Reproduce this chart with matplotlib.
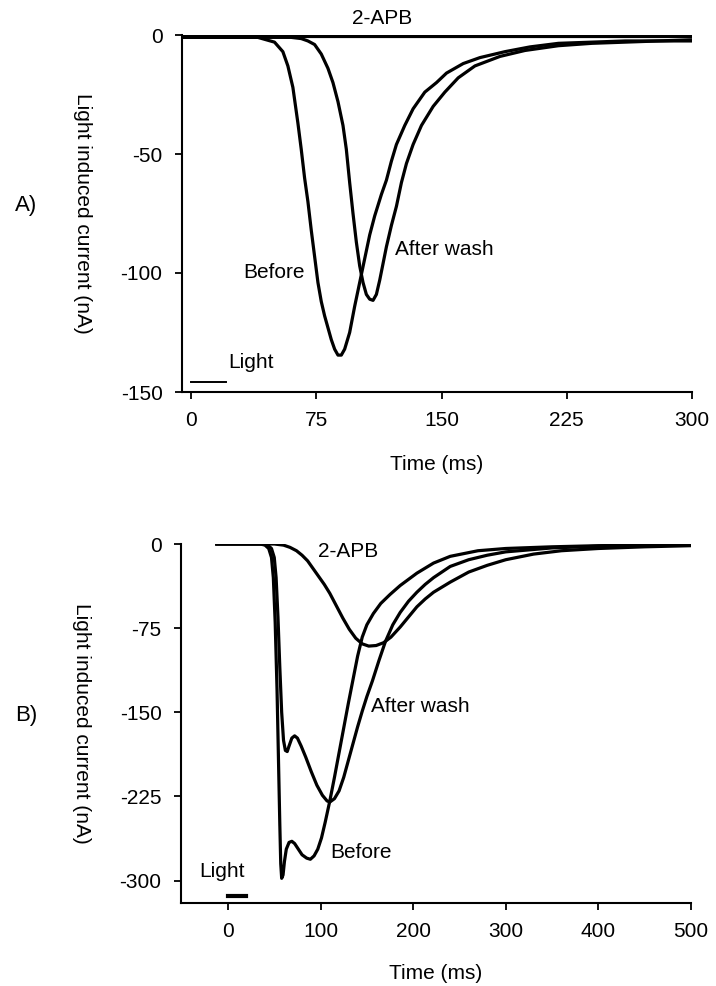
import matplotlib
matplotlib.use("Agg")
import matplotlib.pyplot as plt

plt.rcParams['font.family'] = ['Liberation Sans', 'DejaVu Sans']
plt.rcParams['axes.unicode_minus'] = False

# ---------------- Panel A data (time ms, current nA) ----------------
a_before_t = [-5, 40, 45, 50, 55, 58, 61, 64, 66, 68, 70, 72, 74, 76, 78, 80, 82, 84, 86, 88, 90,
              92, 95, 98, 101, 104, 107, 110, 114, 117, 120, 123, 128, 133, 140, 147, 153, 163,
              173, 188, 203, 220, 240, 260, 280, 300]
a_before_v = [-1, -1, -2, -3, -7, -13, -22, -37, -48, -60, -70, -82, -93, -104, -112, -118, -123,
              -128, -132, -134.5, -134.5, -132, -125, -114, -104, -94, -84, -76, -67, -61, -53,
              -46, -38, -31, -24, -20, -16, -12, -9.5, -7, -5, -3.5, -3, -2.5, -2.5, -2]

a_wash_t = [-5, 60, 66, 70, 74, 78, 82, 85, 88, 91, 93, 95, 97, 99, 101, 103, 105, 107, 109, 111,
            113, 115, 117, 120, 123, 126, 129, 133, 138, 145, 152, 160, 170, 185, 200, 220, 240,
            260, 280, 300]
a_wash_v = [-1, -1, -1.5, -2.5, -4, -8, -14, -20, -28, -38, -48, -62, -75, -87, -97, -104, -109,
            -111, -111.5, -109, -103, -96, -89, -80, -72, -62, -54, -46, -38, -30, -24, -18, -13,
            -9, -6.5, -4.5, -3.5, -3, -2.5, -2.5]

a_apb_t = [-5, 50, 100, 150, 200, 250, 300]
a_apb_v = [-0.5, -0.5, -0.5, -0.5, -0.5, -0.5, -0.5]

a_light_t = [0, 21]
a_light_v = [-146, -146]

a_xticks = [0, 75, 150, 225, 300]
a_yticks = [0, -50, -100, -150]

# ---------------- Panel B data ----------------
b_before_t = [-12, 35, 40, 44, 47, 49, 51, 53, 54.5, 56, 57, 58, 59.5, 61, 63, 66, 69, 72, 76, 80,
              85, 89, 93, 97, 101, 105, 110, 115, 120, 125, 130, 135, 140, 145, 150, 157, 165,
              175, 186, 204, 222, 240, 270, 300, 350, 400, 450, 500]
b_before_v = [0, 0, -1, -4, -12, -30, -70, -130, -190, -250, -285, -298, -295, -283, -272, -266,
              -265, -267, -272, -277, -280, -281, -278, -272, -262, -248, -229, -208, -186, -164,
              -142, -121, -100, -83, -72, -62, -53, -45, -37, -26, -17, -11, -6, -4, -2.5, -1.5,
              -1, -0.5]

b_wash_t = [-12, 38, 43, 47, 50, 52, 54, 56, 58, 60, 62, 64, 66, 69, 72, 75, 79, 84, 90, 96, 102,
            107, 110, 115, 120, 125, 130, 135, 140, 145, 150, 156, 163, 170, 178, 186, 195, 204,
            213, 222, 240, 260, 280, 300, 350, 400, 450, 500]
b_wash_v = [0, 0, -1, -4, -12, -30, -65, -110, -150, -175, -184, -185, -180, -173, -171, -173,
            -180, -190, -203, -215, -224, -229, -230, -227, -220, -208, -193, -178, -163, -149,
            -136, -122, -104, -87, -72, -61, -51, -43, -36, -30, -20, -14, -10, -7, -3.5, -2, -1,
            -0.5]

b_apb_t = [-12, 50, 60, 67, 74, 80, 86, 92, 98, 104, 110, 117, 124, 131, 138, 145, 152, 160, 168,
           176, 186, 195, 204, 213, 222, 240, 260, 280, 300, 330, 360, 400, 450, 500]
b_apb_v = [0, 0, -1, -3, -6, -10, -15, -22, -29, -36, -44, -55, -66, -76, -84, -89, -91, -90.5,
           -88, -83, -74, -65, -56, -49, -43, -34, -25, -19, -14, -9, -6, -4, -2.5, -1.5]

b_light_t = [0, 20]
b_light_v = [-314, -314]

b_xticks = [0, 100, 200, 300, 400, 500]
b_yticks = [0, -75, -150, -225, -300]

# ---------------- Figure ----------------
W, H = 716, 986
fig = plt.figure(figsize=(W / 100, H / 100), dpi=100)


def rect(l, r, t, b):
    return [l / W, 1 - b / H, (r - l) / W, (b - t) / H]


FS = 15
LW = 2.3


def style(ax):
    for s in ['top', 'right']:
        ax.spines[s].set_visible(False)
    for s in ['left', 'bottom']:
        ax.spines[s].set_linewidth(1.5)
    ax.tick_params(direction='out', length=5, width=1.3, labelsize=FS)
    ax.tick_params(axis='x', pad=9)
    ax.tick_params(axis='y', pad=9)


# Panel A
axA = fig.add_axes(rect(182, 692, 35, 392))
style(axA)
axA.plot(a_apb_t, a_apb_v, color='black', lw=LW)
axA.plot(a_before_t, a_before_v, color='black', lw=LW)
axA.plot(a_wash_t, a_wash_v, color='black', lw=LW)
axA.plot(a_light_t, a_light_v, color='black', lw=1.4)
axA.set_xlim(-5.4, 300)
axA.set_ylim(-150, 0)
axA.set_xticks(a_xticks)
axA.set_yticks(a_yticks)
axA.set_xlabel('Time (ms)', fontsize=FS, labelpad=18)
axA.text(-0.196, 0.5, 'Light induced current (nA)', rotation=-90, fontsize=FS,
         transform=axA.transAxes, ha='center', va='center')
axA.text(114.6, 7.1, '2-APB', fontsize=FS, ha='center', va='center', clip_on=False)
axA.text(68, -100, 'Before', fontsize=FS, ha='right', va='center')
axA.text(122, -90.3, 'After wash', fontsize=FS, ha='left', va='center')
axA.text(22, -137.8, 'Light', fontsize=FS, ha='left', va='center')
fig.text(26 / W, 1 - 206 / H, 'A)', fontsize=16, ha='center', va='center')

# Panel B
axB = fig.add_axes(rect(181, 691, 544, 903))
style(axB)
axB.plot(b_apb_t, b_apb_v, color='black', lw=LW)
axB.plot(b_before_t, b_before_v, color='black', lw=LW)
axB.plot(b_wash_t, b_wash_v, color='black', lw=LW)
axB.plot(b_light_t, b_light_v, color='black', lw=3)
axB.set_xlim(-50.7, 500)
axB.set_ylim(-320, 0)
axB.set_xticks(b_xticks)
axB.set_yticks(b_yticks)
axB.set_xlabel('Time (ms)', fontsize=FS, labelpad=16)
axB.text(-0.196, 0.5, 'Light induced current (nA)', rotation=-90, fontsize=FS,
         transform=axB.transAxes, ha='center', va='center')
axB.text(97, -7, '2-APB', fontsize=FS, ha='left', va='center')
axB.text(110, -275, 'Before', fontsize=FS, ha='left', va='center')
axB.text(155, -145, 'After wash', fontsize=FS, ha='left', va='center')
axB.text(-6.5, -292, 'Light', fontsize=FS, ha='center', va='center')
fig.text(26 / W, 1 - 716 / H, 'B)', fontsize=16, ha='center', va='center')

fig.savefig('out.png', dpi=100)
